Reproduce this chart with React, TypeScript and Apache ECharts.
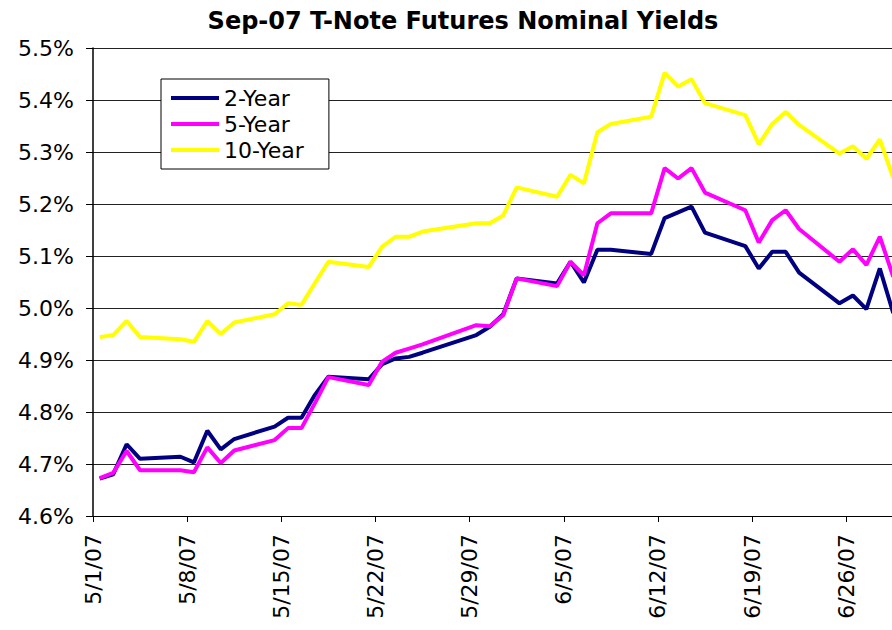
import React, { useEffect, useRef } from "react";
import * as echarts from "echarts";

const chartTitle = "Sep-07 T-Note Futures Nominal Yields";
const seriesNames = ["2-Year", "5-Year", "10-Year"];
const seriesColors = ["#000080", "#FF00FF", "#FFFF00"];

const tradingDays = [
  "5/1/07", "5/2/07", "5/3/07", "5/4/07", "5/7/07", "5/8/07", "5/9/07", "5/10/07", "5/11/07",
  "5/14/07", "5/15/07", "5/16/07", "5/17/07", "5/18/07", "5/21/07", "5/22/07", "5/23/07", "5/24/07",
  "5/25/07", "5/29/07", "5/30/07", "5/31/07", "6/1/07", "6/4/07", "6/5/07", "6/6/07", "6/7/07",
  "6/8/07", "6/11/07", "6/12/07", "6/13/07", "6/14/07", "6/15/07", "6/18/07", "6/19/07", "6/20/07",
  "6/21/07", "6/22/07", "6/25/07", "6/26/07", "6/27/07", "6/28/07", "6/29/07",
];

const twoYear = [
  4.672, 4.680, 4.738, 4.710, 4.714, 4.703, 4.764, 4.728, 4.748,
  4.772, 4.789, 4.789, 4.833, 4.868, 4.863, 4.892, 4.903, 4.906,
  4.914, 4.948, 4.964, 4.988, 5.057, 5.047, 5.089, 5.049, 5.112,
  5.112, 5.104, 5.173, 5.184, 5.195, 5.145, 5.119, 5.076, 5.108,
  5.108, 5.068, 5.009, 5.024, 4.998, 5.076, 4.990,
];

const fiveYear = [
  4.673, 4.683, 4.725, 4.688, 4.688, 4.684, 4.732, 4.702, 4.726,
  4.746, 4.769, 4.769, 4.817, 4.867, 4.852, 4.897, 4.914, 4.922,
  4.930, 4.967, 4.965, 4.986, 5.057, 5.042, 5.089, 5.063, 5.163,
  5.182, 5.182, 5.269, 5.249, 5.269, 5.222, 5.188, 5.126, 5.169,
  5.188, 5.152, 5.089, 5.113, 5.083, 5.137, 5.060,
];

const tenYear = [
  4.944, 4.948, 4.975, 4.944, 4.940, 4.935, 4.975, 4.950, 4.972,
  4.988, 5.009, 5.006, 5.048, 5.089, 5.079, 5.118, 5.137, 5.137,
  5.147, 5.163, 5.163, 5.178, 5.232, 5.214, 5.256, 5.240, 5.338,
  5.354, 5.368, 5.452, 5.426, 5.440, 5.394, 5.371, 5.315, 5.354,
  5.377, 5.352, 5.297, 5.311, 5.287, 5.324, 5.250,
];

const seriesValues = [twoYear, fiveYear, tenYear];

// axis definition (days since 5/1/07)
const X_MIN = 0;
const X_MAX = 60;
const X_INTERVAL = 7;
const Y_MIN = 4.6;
const Y_MAX = 5.5;
const Y_INTERVAL = 0.1;

const BASE = Date.UTC(2007, 4, 1);
const DAY = 86400000;

function dayIndex(label: string): number {
  const [m, d, y] = label.split("/").map(Number);
  return Math.round((Date.UTC(2000 + y, m - 1, d) - BASE) / DAY);
}

function dayLabel(n: number): string {
  const t = new Date(BASE + n * DAY);
  return `${t.getUTCMonth() + 1}/${t.getUTCDate()}/07`;
}

const FONT = "DejaVu Sans";

export default function App() {
  const ref = useRef<HTMLDivElement>(null);

  useEffect(() => {
    if (!ref.current) return;
    const chart = echarts.init(ref.current, undefined, { renderer: "svg" });
    chart.setOption({
      animation: false,
      backgroundColor: "#ffffff",
      textStyle: { fontFamily: FONT },
      graphic: [
        {
          type: "text",
          x: 463,
          y: 21,
          style: {
            text: chartTitle,
            fontSize: 24,
            fontWeight: "bold",
            fontFamily: FONT,
            fill: "#000",
            align: "center",
            verticalAlign: "middle",
          },
        },
      ],
      grid: {
        left: 93,
        top: 48,
        width: 807,
        height: 468,
        containLabel: false,
        outerBoundsMode: "none",
      },
      legend: {
        orient: "vertical",
        left: 161,
        top: 79,
        padding: [8, 25, 8, 10],
        itemGap: 4,
        itemWidth: 48,
        itemHeight: 4,
        icon: "rect",
        borderColor: "#000",
        borderWidth: 1,
        backgroundColor: "#fff",
        textStyle: { fontSize: 22, color: "#000", fontFamily: FONT, lineHeight: 22 },
        data: seriesNames,
      },
      xAxis: {
        type: "value",
        min: X_MIN,
        max: X_MAX,
        interval: X_INTERVAL,
        axisLine: { show: true, onZero: false, lineStyle: { color: "#000", width: 1 } },
        axisTick: { show: true, length: 6, lineStyle: { color: "#000", width: 1 } },
        splitLine: { show: false },
        axisLabel: {
          rotate: 90,
          margin: 18,
          fontSize: 22,
          color: "#000",
          fontFamily: FONT,
          showMaxLabel: false,
          formatter: (v: number) => (v % X_INTERVAL === 0 ? dayLabel(v) : ""),
        },
      },
      yAxis: {
        type: "value",
        min: Y_MIN,
        max: Y_MAX,
        interval: Y_INTERVAL,
        axisLine: { show: true, lineStyle: { color: "#000", width: 1.5 } },
        axisTick: { show: true, length: 7, lineStyle: { color: "#000", width: 1 } },
        splitLine: { show: true, lineStyle: { color: "#222", width: 1 } },
        axisLabel: {
          margin: 19,
          fontSize: 22,
          color: "#000",
          fontFamily: FONT,
          formatter: (v: number) => v.toFixed(1) + "%",
        },
      },
      series: seriesNames.map((name, si) => ({
        name,
        type: "line",
        symbol: "none",
        showSymbol: false,
        clip: true,
        color: seriesColors[si],
        lineStyle: { color: seriesColors[si], width: 4 },
        data: tradingDays.map((d, i) => [dayIndex(d) + 0.5, seriesValues[si][i]]),
        z: 2 + si,
      })),
    });
    return () => chart.dispose();
  }, []);

  return (
    <div
      style={{
        position: "fixed",
        left: 0,
        top: 0,
        width: 892,
        height: 630,
        overflow: "hidden",
        background: "#fff",
      }}
    >
      <div ref={ref} style={{ width: 900, height: 630 }} />
    </div>
  );
}
